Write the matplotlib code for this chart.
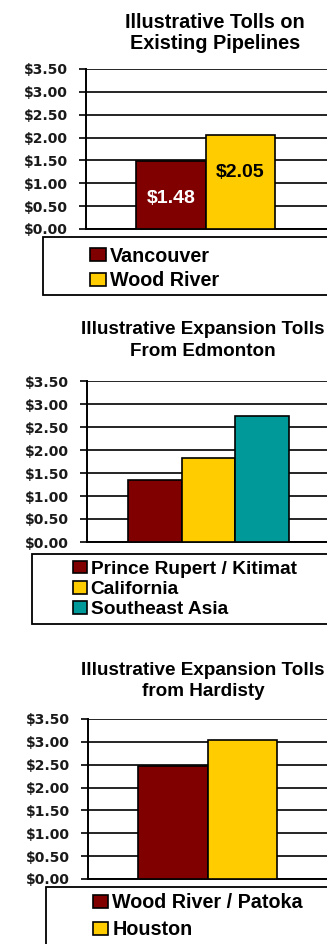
import matplotlib.pyplot as plt
from matplotlib.patches import Rectangle

# chart values
title1 = "Illustrative Tolls on\nExisting Pipelines"
labels1 = ["Vancouver", "Wood River"]
values1 = [1.48, 2.05]

title2 = "Illustrative Expansion Tolls\nFrom Edmonton"
labels2 = ["Prince Rupert / Kitimat", "California", "Southeast Asia"]
values2 = [1.34, 1.82, 2.75]

title3 = "Illustrative Expansion Tolls\nfrom Hardisty"
labels3 = ["Wood River / Patoka", "Houston"]
values3 = [2.48, 3.05]

yticks = [0, 0.5, 1.0, 1.5, 2.0, 2.5, 3.0, 3.5]

MAROON = "#800000"
GOLD = "#FFCC00"
TEAL = "#009999"

W, H = 327, 944


def box(x0, y0, x1, y1):
    return [x0 / W, 1 - y1 / H, (x1 - x0) / W, (y1 - y0) / H]


def fx(x):
    return x / W


def fy(y):
    return 1 - y / H


fig = plt.figure(figsize=(W / 100, H / 100), dpi=100)

font_tick = {"family": "DejaVu Sans", "weight": "bold", "size": 10}

panels = [
    # values, labels, colors, axes box, xlim, title, title pos, title size, linespacing,
    # legend box, legend anchor, labelspacing, handlelength, legend size
    (values1, labels1, [MAROON, GOLD], (86, 69, 340, 229), (-1.22, 2.435),
     title1, (215, 33), 14.3, 1.1, (43, 237, 345, 295), (90, 246.5), 0.3, 0.8, 14.2),
    (values2, labels2, [MAROON, GOLD, TEAL], (87, 381, 340, 542), (-1.263, 3.448),
     title2, (203, 340.5), 13.6, 1.35, (32, 554, 345, 624), (73, 560.5), 0.17, 0.72, 13.8),
    (values3, labels3, [MAROON, GOLD], (88, 719, 340, 879), (-1.219, 2.406),
     title3, (203, 681), 13.6, 1.38, (46, 887, 345, 965), (93, 893.5), 0.4, 0.78, 14.2),
]

axes = []
for (vals, labs, cols, abox, xlim, title, tpos, tsize, lsp,
     lbox, lanchor, lspace, hlen, lsize) in panels:
    ax = fig.add_axes(box(*abox))
    bars = ax.bar(range(len(vals)), vals, width=1.0, color=cols,
                  edgecolor="black", linewidth=1.2, zorder=3)
    ax.set_xlim(*xlim)
    ax.set_ylim(0, 3.5)
    ax.set_yticks(yticks)
    ax.set_yticklabels(["${:.2f}".format(t) for t in yticks], fontdict=font_tick, color="#1a1a1a")
    ax.set_xticks([])
    ax.yaxis.grid(True, color="black", linewidth=1.2, zorder=0)
    ax.set_axisbelow(True)
    ax.tick_params(axis="y", length=5, width=1.2, pad=8, color="black")
    for s in ["top", "right"]:
        ax.spines[s].set_visible(False)
    for s in ["left", "bottom"]:
        ax.spines[s].set_linewidth(1.4)
        ax.spines[s].set_color("black")

    fig.text(fx(tpos[0]), fy(tpos[1]), title, ha="center", va="center",
             linespacing=lsp, family="Liberation Sans", weight="bold", size=tsize)

    fig.patches.append(Rectangle((fx(lbox[0]), fy(lbox[3])), (lbox[2] - lbox[0]) / W,
                                 (lbox[3] - lbox[1]) / H, transform=fig.transFigure,
                                 facecolor="white", edgecolor="black", linewidth=1.3))
    fig.legend(bars, labs, loc="upper left", bbox_to_anchor=(fx(lanchor[0]), fy(lanchor[1])),
               bbox_transform=fig.transFigure, borderaxespad=0, borderpad=0, frameon=False,
               handlelength=hlen, handleheight=0.65, handletextpad=0.2, labelspacing=lspace,
               prop={"family": "Liberation Sans", "weight": "bold", "size": lsize})
    axes.append(ax)

# value labels on the first chart
ax = axes[0]
for i, v in enumerate(values1):
    ax.annotate("${:.2f}".format(v), xy=(i, v), xytext=(0, -27), textcoords="offset points",
                ha="center", va="center", color="white" if i == 0 else "black",
                fontsize=14, fontweight="bold", fontfamily="Liberation Sans", zorder=5)

fig.savefig("out.png", dpi=100)
